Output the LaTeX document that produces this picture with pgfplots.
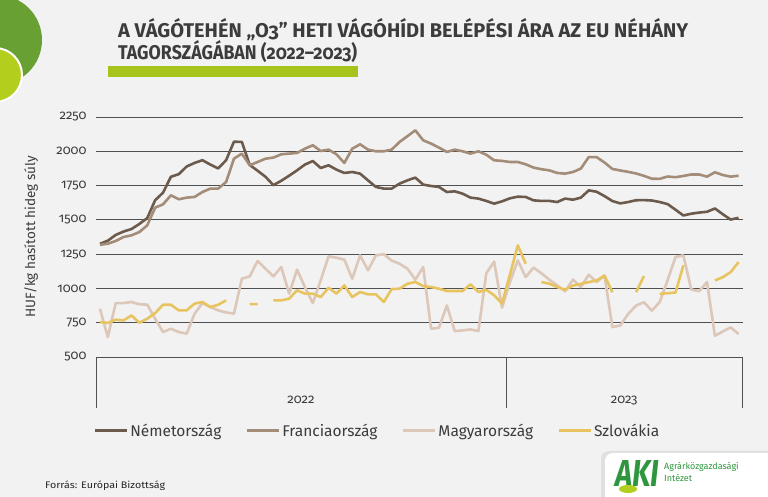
\documentclass[border=0pt]{standalone}
\usepackage{pgfplots}
\pgfplotsset{compat=1.18}
\usepackage{pgfplotstable}
\usepackage{graphicx}
\usepackage{fontspec}
\setmainfont{Fira Sans}[Numbers=OldStyle]

\definecolor{bgc}{RGB}{242,242,242}
\definecolor{dec}{RGB}{108,91,77}
\definecolor{frc}{RGB}{163,140,120}
\definecolor{huc}{RGB}{221,199,184}
\definecolor{skc}{RGB}{231,196,96}
\definecolor{gridc}{RGB}{80,80,80}
\definecolor{titlec}{RGB}{60,60,60}
\definecolor{barc}{RGB}{166,196,28}
\definecolor{dkgreen}{RGB}{104,160,52}
\definecolor{limec}{RGB}{180,206,30}
\definecolor{akigreen}{RGB}{46,150,60}

\pgfplotstableread{
x de fr hu sk
0 1325 1318 852 755
1 1348 1326 645 748
2 1390 1346 893 772
3 1415 1375 893 767
4 1433 1387 901 803
5 1470 1411 884 750
6 1513 1460 882 779
7 1643 1589 779 820
8 1698 1613 682 881
9 1814 1679 706 881
10 1833 1650 682 840
11 1889 1662 670 840
12 1915 1667 815 889
13 1935 1703 893 901
14 1903 1728 864 864
15 1875 1728 840 881
16 1935 1776 825 913
17 2070 1946 816 nan
18 2068 1983 1071 nan
19 1900 1898 1088 885
20 1858 1922 1200 885
21 1814 1946 1144 nan
22 1753 1954 1088 913
23 1785 1978 1156 913
24 1822 1983 962 925
25 1861 1988 1137 986
26 1903 2019 1010 962
27 1929 2044 893 962
28 1878 2002 1059 937
29 1898 2012 1234 1005
30 1866 1978 1224 962
31 1842 1915 1210 1022
32 1849 2019 1071 937
33 1837 2051 1241 974
34 1788 2012 1132 957
35 1740 2000 1241 957
36 1728 2000 1250 901
37 1728 2012 1203 995
38 1764 2068 1180 998
39 1788 2110 1144 1034
40 1808 2153 1064 1047
41 1757 2080 1156 1017
42 1747 2056 706 1010
43 1740 2027 713 998
44 1703 1995 876 981
45 1708 2012 689 981
46 1691 2000 694 981
47 1662 1983 701 1030
48 1655 2000 688 974
49 1638 1975 1110 990
50 1618 1934 1195 950
51 1635 1930 860 890
52 1657 1922 1045 1100
53 1669 1922 1205 1314
54 1667 1905 1083 1180
55 1642 1881 1152 nan
56 1638 1869 1110 1046
57 1638 1861 1064 1035
58 1630 1842 1022 1010
59 1655 1837 979 990
60 1647 1849 1064 1021
61 1662 1874 1010 1033
62 1715 1958 1100 1046
63 1705 1957 1046 1058
64 1673 1918 1092 1094
65 1637 1871 718 972
66 1620 1860 730 nan
67 1630 1850 814 nan
68 1643 1838 875 972
69 1644 1821 899 1090
70 1641 1800 838 nan
71 1630 1799 900 960
72 1615 1816 1060 965
73 1574 1811 1229 970
74 1532 1820 1241 1168
75 1545 1831 992 nan
76 1553 1831 980 nan
77 1559 1815 1046 nan
78 1583 1847 655 1058
79 1541 1827 686 1082
80 1502 1815 716 1119
81 1515 1822 667 1192
}\datatable

\begin{document}
\begin{tikzpicture}[x=1pt,y=1pt]
\fill[bgc] (0,0) rectangle (768,497);
\begin{scope}
\clip (0,0) rectangle (768,497);
\fill[dkgreen] (-3,457) circle (45);
\filldraw[fill=limec, draw=white, line width=2pt] (-5,422) circle (27);
% logo box
\fill[black!12, rounded corners=8pt] (601,-10) rectangle (780,46);
\fill[white, rounded corners=8pt] (605,-10) rectangle (780,44);
\end{scope}
% title
\node[anchor=base west, inner sep=0, text=titlec] at (118,459)
  {\resizebox{570pt}{19pt}{\fontsize{20}{20}\selectfont\bfseries A VÁGÓTEHÉN „O3” HETI VÁGÓHÍDI BELÉPÉSI ÁRA AZ EU NÉHÁNY}};
\node[anchor=base west, inner sep=0, text=titlec] at (118,437)
  {\resizebox{239pt}{19pt}{\fontsize{20}{20}\selectfont\bfseries TAGORSZÁGÁBAN (2022–2023)}};
\fill[barc] (108,420) rectangle (358,431);
% y label
\node[rotate=90, text=titlec, font=\fontsize{13.5}{13.5}\selectfont] at (31,260) {HUF/kg hasított hideg súly};
% source
\node[anchor=base west, inner sep=0, text=black!85] at (45,8)
  {\resizebox{120pt}{\height}{\fontsize{9.5}{9.5}\selectfont Forrás: Európai Bizottság}};
% logo
\node[anchor=base west, inner sep=0, text=akigreen] at (615,10)
  {\resizebox{44pt}{26pt}{\bfseries\itshape AKI}};
\fill[limec] (628,8) ellipse (9 and 4);
\node[anchor=base west, inner sep=0, text=akigreen, font=\fontsize{9}{9}\selectfont] at (664,27) {Agrárközgazdasági};
\node[anchor=base west, inner sep=0, text=akigreen, font=\fontsize{9}{9}\selectfont] at (664,15) {Intézet};

\begin{axis}[
  at={(96pt,140pt)}, anchor=south west,
  scale only axis, width=646.5pt, height=240pt,
  xmin=-0.5, xmax=81.5, ymin=500, ymax=2250,
  ytick={500,750,...,2250},
  xtick=\empty,
  ymajorgrids,
  grid style={gridc, line width=0.9pt},
  axis line style={draw=none},
  major tick length=0pt,
  yticklabel style={font=\fontsize{13}{13}\selectfont, text=titlec, xshift=-6pt},
  /pgf/number format/1000 sep={},
  /pgf/number format/assume math mode=true,
  clip=false,
  unbounded coords=jump,
  legend style={at={(0.435,-0.308)}, anchor=center, draw=none, fill=none,
    legend columns=4, font=\fontsize{15.5}{15.5}\selectfont, text=titlec,
    /tikz/every even column/.append style={column sep=22pt},
    inner sep=0pt},
  legend image code/.code={\draw[#1, line width=3pt] (0pt,0pt) -- (32pt,0pt);},
  legend cell align=left,
]
\addplot[dec, line width=2.6pt, line join=round] table[x=x,y=de] {\datatable};
\addlegendentry{Németország}
\addplot[frc, line width=2.6pt, line join=round] table[x=x,y=fr] {\datatable};
\addlegendentry{Franciaország}
\addplot[huc, line width=2.6pt, line join=round] table[x=x,y=hu] {\datatable};
\addlegendentry{Magyarország}
\addplot[skc, line width=2.6pt, line join=round] table[x=x,y=sk] {\datatable};
\addlegendentry{Szlovákia}
\draw[gridc, line width=0.8pt] (axis cs:-0.5,500) -- (axis cs:-0.5,128);
\draw[gridc, line width=0.8pt] (axis cs:51.5,500) -- (axis cs:51.5,128);
\draw[gridc, line width=0.8pt] (axis cs:81.5,500) -- (axis cs:81.5,128);
\node[text=titlec, font=\fontsize{13}{13}\selectfont] at (axis cs:25.5,186) {2022};
\node[text=titlec, font=\fontsize{13}{13}\selectfont] at (axis cs:66.5,186) {2023};
\end{axis}
\pgfresetboundingbox
\path[use as bounding box] (0,0) rectangle (768,497);
\end{tikzpicture}
\end{document}
